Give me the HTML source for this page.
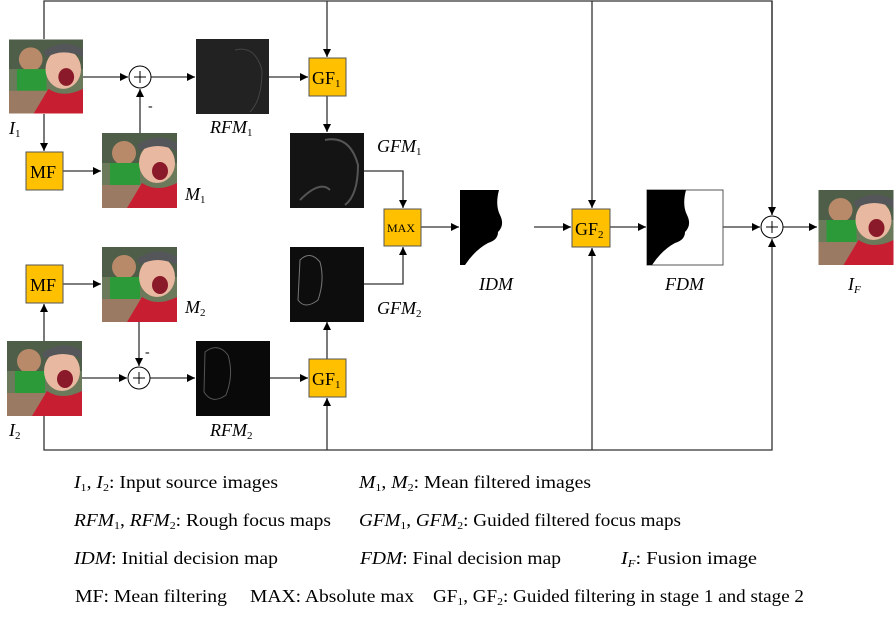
<!DOCTYPE html>
<html><head><meta charset="utf-8"><style>
body{margin:0;background:#fff}
svg text{font-family:"Liberation Serif",serif;fill:#000}
</style></head><body>
<svg width="894" height="616" viewBox="0 0 894 616" xmlns="http://www.w3.org/2000/svg">
<defs>
<marker id="a" viewBox="0 0 10 10" refX="10" refY="5" markerWidth="8" markerHeight="8" orient="auto" markerUnits="userSpaceOnUse"><path d="M0,0L10,5L0,10z" fill="#000"/></marker>
<symbol id="ph" viewBox="0 0 75 75">
<rect width="75" height="75" fill="#6b7a5a"/>
<rect x="0" y="0" width="75" height="30" fill="#4e5e48"/>
<circle cx="22" cy="20" r="12" fill="#b98a6a"/>
<rect x="8" y="30" width="30" height="22" fill="#2d9a3a"/>
<rect x="0" y="52" width="40" height="23" fill="#9a7a62"/>
<ellipse cx="55" cy="30" rx="18" ry="20" fill="#e8b8a0"/>
<path d="M35,12 Q55,-2 75,10 L75,18 Q55,8 38,18z" fill="#55565a"/>
<ellipse cx="58" cy="38" rx="8" ry="9" fill="#8a1a2a"/>
<path d="M25,75 L40,50 Q55,60 75,50 L75,75z" fill="#c81e32"/>
</symbol>
</defs>
<g stroke="#333" stroke-width="1.3" fill="none">
<path d="M44,39V1H772V215"/>
<path d="M327,1V57" marker-end="url(#a)"/>
<path d="M592,1V208" marker-end="url(#a)"/>
<path d="M772,1V215" marker-end="url(#a)"/>
<path d="M44,415V450H772V239" marker-end="url(#a)"/>
<path d="M327,450V398" marker-end="url(#a)"/>
<path d="M592,450V248" marker-end="url(#a)"/>
<path d="M83,77H128" marker-end="url(#a)"/>
<path d="M151,77H195" marker-end="url(#a)"/>
<path d="M269,77H308" marker-end="url(#a)"/>
<path d="M140,133V89" marker-end="url(#a)"/>
<path d="M44,114V151" marker-end="url(#a)"/>
<path d="M63,171H101" marker-end="url(#a)"/>
<path d="M327,96V132" marker-end="url(#a)"/>
<path d="M364,171H403V208" marker-end="url(#a)"/>
<path d="M364,284H403V247" marker-end="url(#a)"/>
<path d="M421,227H459" marker-end="url(#a)"/>
<path d="M534,227H571" marker-end="url(#a)"/>
<path d="M610,227H646" marker-end="url(#a)"/>
<path d="M723,227H760" marker-end="url(#a)"/>
<path d="M783,227H817" marker-end="url(#a)"/>
<path d="M44,341V304" marker-end="url(#a)"/>
<path d="M63,284H101" marker-end="url(#a)"/>
<path d="M139,321V366" marker-end="url(#a)"/>
<path d="M82,378H127" marker-end="url(#a)"/>
<path d="M150,378H195" marker-end="url(#a)"/>
<path d="M270,378H308" marker-end="url(#a)"/>
<path d="M327,359V322" marker-end="url(#a)"/>
</g>
<g fill="#fff" stroke="#000" stroke-width="1">
<circle cx="140" cy="77" r="11"/><circle cx="139" cy="378" r="11"/><circle cx="772" cy="227" r="11"/>
</g>
<g stroke="#000" stroke-width="1">
<path d="M134,77H146M140,71V83"/><path d="M133,378H145M139,372V384"/><path d="M766,227H778M772,221V233"/>
</g>
<text x="148" y="110" font-size="14">-</text>
<text x="145" y="356" font-size="14">-</text>
<use href="#ph" x="9" y="39" width="74" height="75"/>
<use href="#ph" x="102" y="133" width="75" height="75"/>
<use href="#ph" x="102" y="247" width="75" height="75"/>
<use href="#ph" x="7" y="341" width="75" height="75"/>
<use href="#ph" x="818" y="190" width="76" height="75"/>
<rect x="196" y="39" width="73" height="75" fill="#222"/>
<path d="M235,50Q255,45 262,70Q262,100 250,112" stroke="#444" fill="none"/>
<rect x="290" y="133" width="74" height="75" fill="#141414"/>
<path d="M325,140Q350,135 358,165Q358,195 345,205M300,200Q320,180 330,190" stroke="#555" stroke-width="2" fill="none"/>
<rect x="290" y="247" width="74" height="75" fill="#0d0d0d"/>
<path d="M300,260Q310,250 320,262Q325,280 318,300Q305,310 298,300Z" stroke="#777" fill="none"/>
<rect x="196" y="341" width="74" height="75" fill="#090909"/>
<path d="M205,352Q218,342 228,355Q234,375 226,395Q212,405 204,392Z" stroke="#555" fill="none"/>
<rect x="460" y="190" width="74" height="75" fill="#fff"/>
<path d="M460,190H499Q495,205 500,215Q505,225 498,232Q498,240 488,243Q475,250 465,265H460Z" fill="#000"/>
<rect x="647" y="190" width="76" height="75" fill="#fff" stroke="#555"/>
<path d="M647,190H686Q682,205 687,215Q692,225 685,232Q685,240 675,243Q662,250 652,265H647Z" fill="#000"/>
<g fill="#ffc000" stroke="#555" stroke-width="1">
<rect x="309" y="58" width="37" height="38"/><rect x="309" y="359" width="37" height="38"/>
<rect x="26" y="152" width="37" height="38"/><rect x="26" y="265" width="37" height="38"/>
<rect x="384" y="209" width="37" height="37"/><rect x="572" y="209" width="38" height="38"/>
</g>
<text x="312" y="84" font-size="18">GF<tspan font-size="11" dy="3">1</tspan></text>
<text x="312" y="385" font-size="18">GF<tspan font-size="11" dy="3">1</tspan></text>
<text x="575" y="235" font-size="18">GF<tspan font-size="11" dy="3">2</tspan></text>
<text x="30" y="178" font-size="18">MF</text>
<text x="30" y="291" font-size="18">MF</text>
<text x="387" y="232" font-size="12">MAX</text>
<g font-size="18" font-style="italic">
<text x="9" y="134">I<tspan font-size="11" font-style="normal" dy="3">1</tspan></text>
<text x="9" y="436">I<tspan font-size="11" font-style="normal" dy="3">2</tspan></text>
<text x="210" y="133">RFM<tspan font-size="11" font-style="normal" dy="3">1</tspan></text>
<text x="210" y="436">RFM<tspan font-size="11" font-style="normal" dy="3">2</tspan></text>
<text x="185" y="200">M<tspan font-size="11" font-style="normal" dy="3">1</tspan></text>
<text x="185" y="313">M<tspan font-size="11" font-style="normal" dy="3">2</tspan></text>
<text x="377" y="152">GFM<tspan font-size="11" font-style="normal" dy="3">1</tspan></text>
<text x="377" y="314">GFM<tspan font-size="11" font-style="normal" dy="3">2</tspan></text>
<text x="479" y="290">IDM</text>
<text x="665" y="290">FDM</text>
<text x="848" y="290">I<tspan font-size="11" dy="3">F</tspan></text>
</g>
<g font-size="18">
<text x="74" y="488" textLength="204" lengthAdjust="spacingAndGlyphs"><tspan font-style="italic">I</tspan><tspan font-size="11" dy="3">1</tspan><tspan dy="-3">, </tspan><tspan font-style="italic">I</tspan><tspan font-size="11" dy="3">2</tspan><tspan dy="-3">: Input source images</tspan></text>
<text x="359" y="488" textLength="232" lengthAdjust="spacingAndGlyphs"><tspan font-style="italic">M</tspan><tspan font-size="11" dy="3">1</tspan><tspan dy="-3">, </tspan><tspan font-style="italic">M</tspan><tspan font-size="11" dy="3">2</tspan><tspan dy="-3">: Mean filtered images</tspan></text>
<text x="74" y="526" textLength="257" lengthAdjust="spacingAndGlyphs"><tspan font-style="italic">RFM</tspan><tspan font-size="11" dy="3">1</tspan><tspan dy="-3">, </tspan><tspan font-style="italic">RFM</tspan><tspan font-size="11" dy="3">2</tspan><tspan dy="-3">: Rough focus maps</tspan></text>
<text x="359" y="526" textLength="322" lengthAdjust="spacingAndGlyphs"><tspan font-style="italic">GFM</tspan><tspan font-size="11" dy="3">1</tspan><tspan dy="-3">, </tspan><tspan font-style="italic">GFM</tspan><tspan font-size="11" dy="3">2</tspan><tspan dy="-3">: Guided filtered focus maps</tspan></text>
<text x="74" y="564" textLength="204" lengthAdjust="spacingAndGlyphs"><tspan font-style="italic">IDM</tspan>: Initial decision map</text>
<text x="360" y="564" textLength="201" lengthAdjust="spacingAndGlyphs"><tspan font-style="italic">FDM</tspan>: Final decision map</text>
<text x="621" y="564" textLength="136" lengthAdjust="spacingAndGlyphs"><tspan font-style="italic">I</tspan><tspan font-size="11" font-style="italic" dy="3">F</tspan><tspan dy="-3">: Fusion image</tspan></text>
<text x="75" y="602" textLength="152" lengthAdjust="spacingAndGlyphs">MF: Mean filtering</text>
<text x="250" y="602" textLength="164" lengthAdjust="spacingAndGlyphs">MAX: Absolute max</text>
<text x="433" y="602" textLength="371" lengthAdjust="spacingAndGlyphs">GF<tspan font-size="11" dy="3">1</tspan><tspan dy="-3">, GF</tspan><tspan font-size="11" dy="3">2</tspan><tspan dy="-3">: Guided filtering in stage 1 and stage 2</tspan></text>
</g>
</svg>
</body></html>
